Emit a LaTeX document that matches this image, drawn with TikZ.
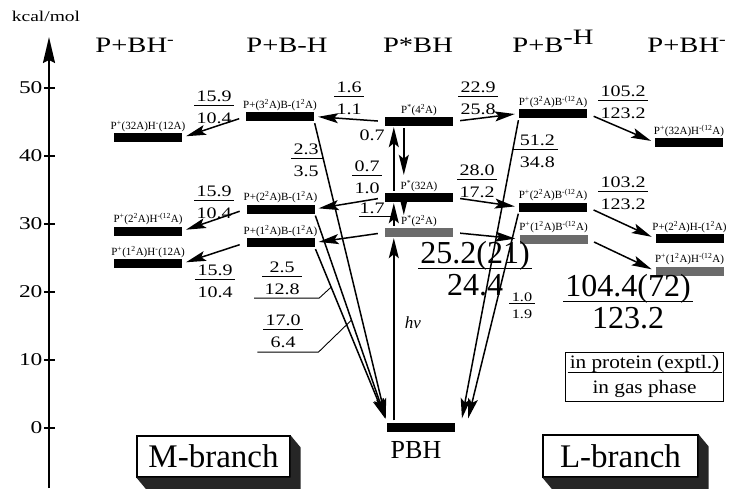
\documentclass[tikz,border=0pt]{standalone}
\usepackage{fontspec}
\setmainfont{Liberation Serif}
\usetikzlibrary{arrows.meta, positioning}

\setlength{\arrayrulewidth}{0.9pt}
\newcommand{\ratio}[2]{\begin{tabular}{@{\hspace{2pt}}c@{\hspace{2pt}}}#1\\[-0.15em]\hline\rule{0pt}{1.1em}#2\end{tabular}}
\newcommand{\bigratio}[2]{\begin{tabular}{@{\hspace{2pt}}c@{\hspace{2pt}}}#1\\[-0.2em]\hline\rule{0pt}{0.85em}#2\end{tabular}}

\begin{document}
\begin{tikzpicture}[
        x=1pt, y=-1pt,
        level/.style={rectangle, fill=black, minimum width=68pt, minimum height=9pt, inner sep=0pt},
        hatched/.style={level, fill=black!58},
        tag/.style={font=\fontsize{11}{12}\selectfont, inner sep=0.5pt},
        head/.style={font=\fontsize{22}{24}\selectfont, xscale=1.3, anchor=base},
        num/.style={font=\fontsize{16}{17}\selectfont, xscale=1.25, inner sep=0pt},
        bignum/.style={font=\fontsize{32}{34}\selectfont, inner sep=0pt},
        arrow/.style={-{Stealth[length=20pt, width=10pt, inset=4pt]}, line width=1.5pt, shorten <=7pt, shorten >=4pt},
        down/.style={arrow, shorten <=2pt},
        branch/.style={draw, line width=1.2pt, fill=white, font=\fontsize{33}{36}\selectfont, inner sep=0pt}
    ]
    \useasboundingbox (0,0) rectangle (736,488);

    % Axis
    \draw[line width=2pt, -{Stealth[length=26pt, width=12pt, inset=3pt]}] (49,488) -- (49,37);
    \node[font=\fontsize{15}{16}\selectfont, xscale=1.3] (unit) at (46,16) {kcal/mol};
    \foreach \v in {0,10,...,50} {
        \draw[line width=1.5pt] (44,428-6.8*\v) -- (55,428-6.8*\v);
        \node[anchor=east, inner sep=1pt, font=\fontsize{18}{20}\selectfont, xscale=1.3] (tick\v) at (44,428-6.8*\v) {\v};
    }

    % Headers
    \node[head] (h1) at (135,52) {P+BH\textsuperscript{-}};
    \node[head] (h2) at (287,52) {P+B-H};
    \node[head] (h3) at (418,52) {P*BH};
    \node[head] (h4) at (553,52) {P+B\raisebox{0.35em}{-H}};
    \node[head] (h5) at (687,52) {P+BH\textsuperscript{-}};

    % Levels
    \node[level] (c1a) at (148,137.5) {};
    \node[level] (c1b) at (148,231) {};
    \node[level] (c1c) at (148,263.5) {};
    \node[level] (c2a) at (280,116.5) {};
    \node[level] (c2b) at (280.5,209) {};
    \node[level] (c2c) at (280.5,242.5) {};
    \node[level] (p4) at (419,121.5) {};
    \node[level] (p3) at (419,197.5) {};
    \node[hatched] (p2) at (419,232.5) {};
    \node[level] (pbh) at (421,427) {};
    \node[level] (c4a) at (553,113.5) {};
    \node[level] (c4b) at (553,207) {};
    \node[hatched] (c4c) at (553.5,239) {};
    \node[level] (c5a) at (689,142.5) {};
    \node[level] (c5b) at (689.5,238.5) {};
    \node[hatched] (c5c) at (689.5,271) {};

    % Level tags
    \node[tag, above=0.5pt of c1a] (t1a) {P\textsuperscript{+}(32A)H\textsuperscript{-}(12A)};
    \node[tag, above=0.5pt of c1b] (t1b) {P\textsuperscript{+}(2\textsuperscript{2}A)H\textsuperscript{-(12}A)};
    \node[tag, above=0.5pt of c1c] (t1c) {P\textsuperscript{+}(1\textsuperscript{2}A)H\textsuperscript{-}(12A)};
    \node[tag, above=0.5pt of c2a] (t2a) {P+(3\textsuperscript{2}A)B-(1\textsuperscript{2}A)};
    \node[tag, above=0.5pt of c2b] (t2b) {P+(2\textsuperscript{2}A)B-(1\textsuperscript{2}A)};
    \node[tag, above=0.5pt of c2c] (t2c) {P+(1\textsuperscript{2}A)B-(1\textsuperscript{2}A)};
    \node[tag, above=0.5pt of p4] (tp4) {P\textsuperscript{*}(4\textsuperscript{2}A)};
    \node[tag, above=0.5pt of p3] (tp3) {P\textsuperscript{*}(32A)};
    \node[tag, above=0.5pt of p2] (tp2) {P\textsuperscript{*}(2\textsuperscript{2}A)};
    \node[tag, above=0.5pt of c4a] (t4a) {P\textsuperscript{+}(3\textsuperscript{2}A)B\textsuperscript{-(12}A)};
    \node[tag, above=0.5pt of c4b] (t4b) {P\textsuperscript{+}(2\textsuperscript{2}A)B\textsuperscript{-(12}A)};
    \node[tag, above=0.5pt of c4c] (t4c) {P\textsuperscript{+}(1\textsuperscript{2}A)B\textsuperscript{-(12}A)};
    \node[tag, above=0.5pt of c5a] (t5a) {P\textsuperscript{+}(32A)H\textsuperscript{-(12}A)};
    \node[tag, above=0.5pt of c5b] (t5b) {P+(2\textsuperscript{2}A)H-(1\textsuperscript{2}A)};
    \node[tag, above=0.5pt of c5c] (t5c) {P\textsuperscript{+}(1\textsuperscript{2}A)H\textsuperscript{-(12}A)};
    \node[font=\fontsize{26}{28}\selectfont, anchor=base] (pbhlabel) at (416,458) {PBH};

    % Rates
    \node[num] (f1) at (214,109) {\ratio{15.9}{10.4}};
    \node[num] (f2) at (214,204) {\ratio{15.9}{10.4}};
    \node[num] (f3) at (215,283) {\ratio{15.9}{10.4}};
    \node[num] (f4) at (349,100) {\ratio{1.6}{1.1}};
    \node[num] (f5) at (306,162) {\ratio{2.3}{3.5}};
    \node[num] (f6) at (367,179) {\ratio{0.7}{1.0}};
    \node[num] (f7) at (478,100) {\ratio{22.9}{25.8}};
    \node[num] (f8) at (477,183) {\ratio{28.0}{17.2}};
    \node[num, anchor=west] (f9) at (517,153) {\ratio{51.2}{34.8}};
    \node[num] (f10) at (623,104) {\ratio{105.2}{123.2}};
    \node[num] (f11) at (623,195) {\ratio{103.2}{123.2}};
    \node[num] (f12) at (282,280) {\ratio{2.5}{12.8}};
    \node[num] (f13) at (283,333) {\ratio{17.0}{6.4}};
    \node[num, font=\fontsize{13}{14}\selectfont] (f16) at (522,307) {\ratio{1.0}{1.9}};
    \node[bignum] (f14) at (475,273) {\bigratio{25.2(21)}{24.4}};
    \node[bignum] (f15) at (628,306) {\bigratio{104.4(72)}{123.2}};
    \node[num, anchor=base] (t07) at (372,140) {0.7};
    \node[num, anchor=base] (t17) at (372,213) {1.7};
    \node[font=\fontsize{17}{18}\selectfont\itshape] (hnu) at (413,323) {hν};

    % Legend and branches
    \node[draw, line width=1pt, font=\fontsize{19}{21}\selectfont, xscale=1.12, inner sep=1.5pt] (key) at (644.5,377) {\ratio{in protein (exptl.)}{in gas phase}};
    \node[branch, minimum width=153pt, minimum height=41pt] (mbranch) at (213.5,456.5) {M-branch};
    \node[branch, minimum width=155pt, minimum height=42pt] (lbranch) at (620.5,456) {L-branch};
    \foreach \b in {mbranch, lbranch} {
        \fill[black!85] (\b.north east) -- ++(10,12) -- ([xshift=10pt,yshift=-12pt]\b.south east)
            -- ([xshift=10pt,yshift=-12pt]\b.south west) -- (\b.south west) -- (\b.south east) -- cycle;
    }

    % Arrows
    \draw[arrow] (c2a.west) -- (c1a.east);
    \draw[arrow] (c2b.west) -- (c1b.east);
    \draw[arrow] (c2c.west) -- (c1c.east);
    \draw[arrow] (p4.west) -- (c2a.east);
    \draw[arrow] (p3.west) -- (c2b.east);
    \draw[arrow] (p2.west) -- (c2c.east);
    \draw[arrow] (p4.east) -- (c4a.west);
    \draw[arrow] (p3.east) -- (c4b.west);
    \draw[arrow] (p2.east) -- (c4c.west);
    \draw[arrow] (c4a.east) -- (c5a.west);
    \draw[arrow] (c4b.east) -- (c5b.west);
    \draw[arrow] (c4c.east) -- (c5c.west);

    \draw[down] (c2a.south east) -- coordinate[pos=0.123] (onA) (pbh.north west);
    \draw[down] (c2b.south east) -- coordinate[pos=0.51] (onB) (pbh.north west);
    \draw[down] (c2c.south east) -- coordinate[pos=0.228] (onC) (pbh.north west);
    \draw[down] (c4a.south west) -- coordinate[pos=0.102] (onR) ([xshift=6pt]pbh.north east);
    \draw[down] (c4b.south west) -- ([xshift=12pt]pbh.north east);

    \coordinate (upx) at ([xshift=7pt]pbh.north west);
    \coordinate (dnx) at ([xshift=19pt]p4.south west);
    \draw[down, shorten >=1pt] (upx) -- (upx |- p2.south);
    \draw[down, shorten >=1pt] (upx |- p2.north) -- (upx |- p3.south);
    \draw[down, shorten >=1pt] (upx |- p3.north) -- (upx |- p4.south);
    \draw[down, shorten >=18pt] (dnx) -- (dnx |- p3.north);
    \draw[down, shorten >=13pt] (dnx |- p3.south) -- (dnx |- p2.north);

    % Leaders
    \draw[line width=0.9pt] (onA) -- (onA -| f5.west);
    \draw[line width=0.9pt] (onR) -- (onR -| f9.east);
    \draw[line width=0.9pt] (onC) -- ++(-12,11) -- ++(-65,0);
    \draw[line width=0.9pt] (onB) -- ++(-33,32) -- ++(-61,0);
    \draw[line width=0.9pt] ([yshift=-3pt]t17.south west) -- ([yshift=-3pt]t17.south west -| upx);
\end{tikzpicture}
\end{document}
